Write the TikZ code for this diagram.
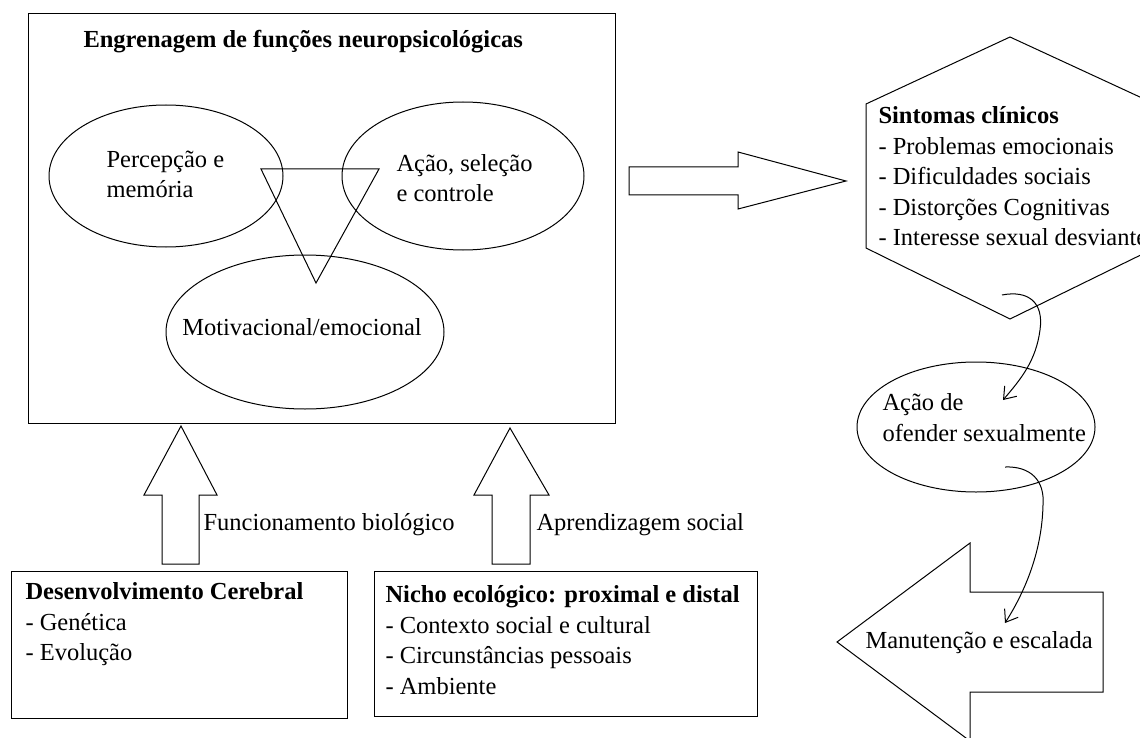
\documentclass[tikz,border=0pt]{standalone}
\usepackage{fontspec}
\setmainfont{Liberation Serif}
\usetikzlibrary{shapes.geometric,arrows.meta}
\begin{document}
\begin{tikzpicture}[x=1pt,y=-1pt,
  line width=1pt,
  txt/.style={inner sep=0pt, align=left, font=\fontsize{24.5}{30.5}\selectfont, anchor=west},
  ell/.style={draw, ellipse, inner sep=0pt},
  bx/.style={draw},
  fat/.style={draw, line join=miter},
  curv/.style={-{Straight Barb[length=11pt,width=16pt,line width=1pt]}}
]
\useasboundingbox (0,0) rectangle (1140,738);
\clip (0,0) rectangle (1140,738);

% main box
\node[bx, minimum width=587pt, minimum height=410pt, anchor=north west] (main) at (28,13) {};
\node[txt] (title) at (83,42) {\bfseries Engrenagem de funções neuropsicológicas};

% ellipses
\node[ell, minimum width=234pt, minimum height=142pt] (perc) at (166,176) {};
\node[ell, minimum width=242pt, minimum height=148pt] (acao) at (463,176) {};
\node[ell, minimum width=278pt, minimum height=154pt] (motiv) at (305,332) {};
\node[txt] (perct) at (106,174.5) {Percepção e\\memória};
\node[txt] (acaot) at (396,178) {Ação, seleção\\e controle};
\node[txt, anchor=center] (motivt) at (302,327) {Motivacional/emocional};

% triangle
\coordinate (t1) at (261,169);
\coordinate (t2) at (379,169);
\coordinate (t3) at (316,283);
\draw (t1) -- (t2) -- (t3) -- cycle;

% big right arrow
\draw[fat] (629,167) -- (738,167) -- (738,152) -- (846,181) -- (738,209) -- (738,195) -- (629,195) -- cycle;

% hexagon
\coordinate (h1) at (866,104);
\coordinate (h2) at (1010,37);
\coordinate (h3) at (1155,104);
\coordinate (h4) at (1155,248);
\coordinate (h5) at (1010,319);
\coordinate (h6) at (866,248);
\draw (h1) -- (h2) -- (h3) -- (h4) -- (h5) -- (h6) -- cycle;
\node[txt] (sint) at (878,176.5) {\bfseries Sintomas clínicos\\\mdseries - Problemas emocionais\\- Dificuldades sociais\\- Distorções Cognitivas\\- Interesse sexual desviante};

% offending ellipse
\node[ell, minimum width=238pt, minimum height=130pt] (ofen) at (976,427) {};
\node[txt] (ofent) at (882,417.5) {Ação de\\ofender sexualmente};

% curved arrows
\coordinate (c1s) at (1002,295);
\coordinate (c1m) at (1040,330);
\coordinate (c1e) at (1003,400);
\draw[curv] (c1s) .. controls (1028,290) and (1044,302) .. (c1m) .. controls (1036,360) and (1022,378) .. (c1e);
\coordinate (c2s) at (1005,467);
\coordinate (c2m) at (1043,505);
\coordinate (c2e) at (1005,623);
\draw[curv] (c2s) .. controls (1030,466) and (1045,480) .. (c2m) .. controls (1042,550) and (1026,590) .. (c2e);

% maintenance arrow
\draw[fat] (837,642) -- (970,543) -- (970,592) -- (1103,592) -- (1103,692) -- (970,692) -- (970,741) -- cycle;
\node[txt] (manut) at (865,643) {Manutenção e escalada};

% up arrows
\draw[fat] (181,426) -- (217,495) -- (199,495) -- (199,564) -- (162,564) -- (162,495) -- (144,495) -- cycle;
\draw[fat] (510,428) -- (549,495) -- (530,495) -- (530,564) -- (492,564) -- (492,495) -- (474,495) -- cycle;
\node[txt] (func) at (203,525) {Funcionamento biológico};
\node[txt] (apren) at (536,525) {Aprendizagem social};

% bottom boxes
\node[bx, minimum width=336pt, minimum height=147pt, anchor=north west] (desbox) at (11,571) {};
\node[txt] (dest) at (25,624.5) {\bfseries Desenvolvimento Cerebral\\\mdseries - Genética\\- Evolução};
\node[bx, minimum width=383pt, minimum height=145pt, anchor=north west] (nichobox) at (374,571) {};
\node[txt] (nichot) at (385,640) {\bfseries Nicho ecológico: proximal e distal\\\mdseries - Contexto social e cultural\\- Circunstâncias pessoais\\- Ambiente};
\end{tikzpicture}
\end{document}
